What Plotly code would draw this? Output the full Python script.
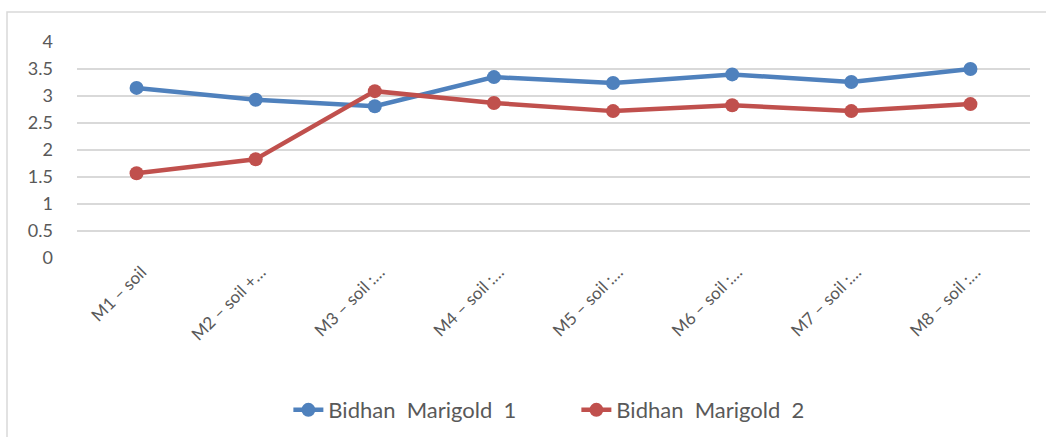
import plotly.graph_objects as go

categories = ["M1 – soil", "M2 – soil +…", "M3 – soil :…", "M4 – soil :…",
              "M5 – soil :…", "M6 – soil :…", "M7 – soil :…", "M8 – soil :…"]
marigold1 = [3.15, 2.93, 2.81, 3.35, 3.24, 3.40, 3.26, 3.50]
marigold2 = [1.57, 1.83, 3.09, 2.87, 2.72, 2.83, 2.72, 2.85]
series_names = ["Bidhan  Marigold  1", "Bidhan  Marigold  2"]
y_ticks = [0, 0.5, 1, 1.5, 2, 2.5, 3, 3.5, 4]
y_tick_text = ["0", "0.5", "1", "1.5", "2", "2.5", "3", "3.5", "4"]

FONT = "Lato, 'Open Sans', sans-serif"
GREY = "#595959"

fig = go.Figure()
fig.add_trace(go.Scatter(x=categories, y=marigold1, name=series_names[0],
                         mode="lines+markers",
                         line=dict(color="#4F81BD", width=4.5),
                         marker=dict(size=14, color="#4F81BD")))
fig.add_trace(go.Scatter(x=categories, y=marigold2, name=series_names[1],
                         mode="lines+markers",
                         line=dict(color="#C0504D", width=4.5),
                         marker=dict(size=14, color="#C0504D")))

L, R, T, B = 77, 16, 42, 179
W, H = 1046, 437
pw, ph = W - L - R, H - T - B

fig.update_layout(
    width=W, height=H,
    margin=dict(l=L, r=R, t=T, b=B, autoexpand=False),
    paper_bgcolor="white", plot_bgcolor="white",
    font=dict(family=FONT, color=GREY, size=16),
    showlegend=True,
    legend=dict(orientation="h", x=0.524, xanchor="center", y=-0.704, yanchor="middle",
                font=dict(size=22, color=GREY, family=FONT),
                entrywidth=243, entrywidthmode="pixels",
                traceorder="normal"),
    xaxis=dict(type="category", range=[-0.5, 7.5], tickangle=-45,
               tickfont=dict(size=17, color=GREY, family=FONT),
               ticklabelshift=5,
               showgrid=False, showline=False, ticks="", zeroline=False),
    yaxis=dict(range=[0, 4.0001], tickvals=y_ticks, ticktext=y_tick_text,
               tickfont=dict(size=18, color=GREY, family=FONT),
               showgrid=True, gridcolor="#D9D9D9", gridwidth=1.5,
               zeroline=False, showline=False, ticks="", ticklabelstandoff=23),
    shapes=[dict(type="rect", xref="paper", yref="paper",
                 x0=(7 - L) / pw, x1=(W + 10 - L) / pw,
                 y0=-(H + 10 - T - ph) / ph, y1=(T + ph - 12) / ph,
                 line=dict(color="#D9D9D9", width=1.5), fillcolor="rgba(0,0,0,0)",
                 layer="below")],
)

fig.write_html("out.html", config={"displayModeBar": False},
               post_script="document.body.style.margin='0';document.body.style.overflow='hidden';")
